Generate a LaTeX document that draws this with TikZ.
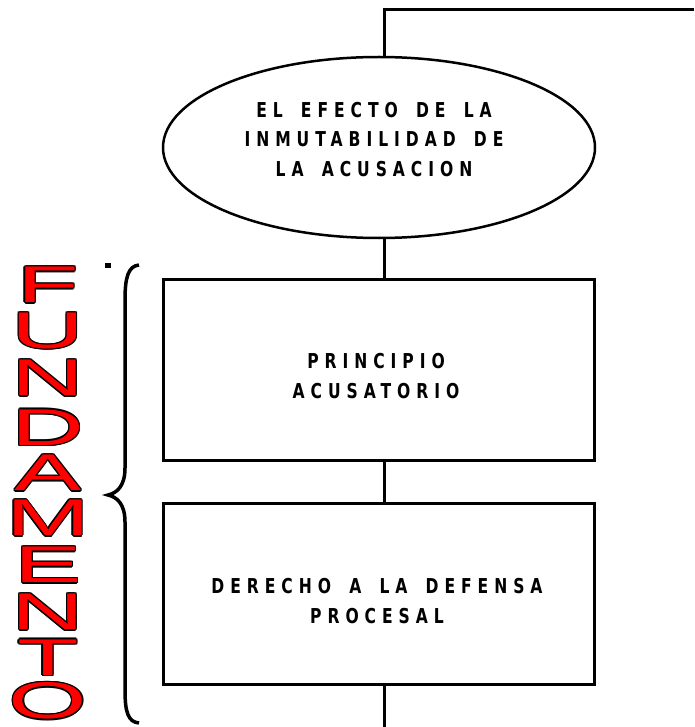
\documentclass[tikz,border=0pt]{standalone}
\usepackage{fontspec}
\setmainfont{Liberation Sans}
\newfontfamily\boxfont[FakeStretch=0.76,LetterSpace=29,WordSpace=1.6]{DejaVu Sans}
\newfontfamily\bigfont{Liberation Sans}
\usetikzlibrary{shapes.geometric}
\tikzset{
  conn/.style={line width=3pt},
  boxnode/.style={draw, line width=3pt, minimum width=431pt, minimum height=181pt, inner sep=0pt},
  ovalnode/.style={ellipse, draw, line width=2.5pt, minimum width=432pt, minimum height=181pt, inner sep=0pt},
  lbl/.style={font=\boxfont\bfseries\fontsize{20.5}{29.5}\selectfont, align=center, inner sep=0pt},
  bigletter/.style={font=\bigfont\fontsize{51.7}{52}\selectfont, inner sep=0pt, anchor=center},
  bracepath/.style={line width=3.5pt}
}
\newcommand\fundletter[3]{%
  \foreach \dx/\dy in {1.3/0,-1.3/0,0/1.3,0/-1.3,0.9/0.9,-0.9/0.9,0.9/-0.9,-0.9/-0.9}{
    \node[bigletter, text=black] at (48+\dx,#2+\dy) {\scalebox{1.95}[1]{#3}};
  }
  \node[bigletter, text=red] (#1) at (48,#2) {\scalebox{1.95}[1]{#3}};
}
\begin{document}
\begin{tikzpicture}[x=1pt,y=-1pt]
\useasboundingbox (0,0) rectangle (694,727);
% shapes
\node[ovalnode] (e) at (379,147.5) {};
\node[boxnode] (b1) at (378.5,369.5) {};
\node[boxnode] (b2) at (378.5,594) {};
% labels
\node[lbl] (t0) at (374,139.5) {EL EFECTO DE LA\\INMUTABILIDAD DE\\LA ACUSACION};
\node[lbl] (t1) at (376,376) {PRINCIPIO\\ACUSATORIO};
\node[lbl] (t2) at (377,601) {DERECHO A LA DEFENSA\\PROCESAL};
% connectors
\coordinate (top) at (384,10);
\coordinate (rightend) at (694,10);
\coordinate (bottomend) at (384,727);
\draw[conn] (rightend) -- (top) -- (top |- e.north);
\draw[conn] (top |- e.south) -- (top |- b1.north);
\draw[conn] (top |- b1.south) -- (top |- b2.north);
\draw[conn] (top |- b2.south) -- (bottomend);
% brace
\draw[bracepath] (139,265) .. controls (128,266) and (125,278) .. (125,300)
  -- (125,468) .. controls (125,486) and (117,493) .. (108,495)
  .. controls (117,497) and (125,504) .. (125,522)
  -- (125,690) .. controls (125,712) and (128,722) .. (139,723);
\fill (105,263) rectangle (111,268);
% FUNDAMENTO
\fundletter{l1}{285}{F}
\fundletter{l2}{331}{U}
\fundletter{l3}{378}{N}
\fundletter{l4}{427.5}{D}
\fundletter{l5}{473}{A}
\fundletter{l6}{518}{M}
\fundletter{l7}{565}{E}
\fundletter{l8}{612}{N}
\fundletter{l9}{657.5}{T}
\fundletter{l10}{701}{O}
\end{tikzpicture}
\end{document}
